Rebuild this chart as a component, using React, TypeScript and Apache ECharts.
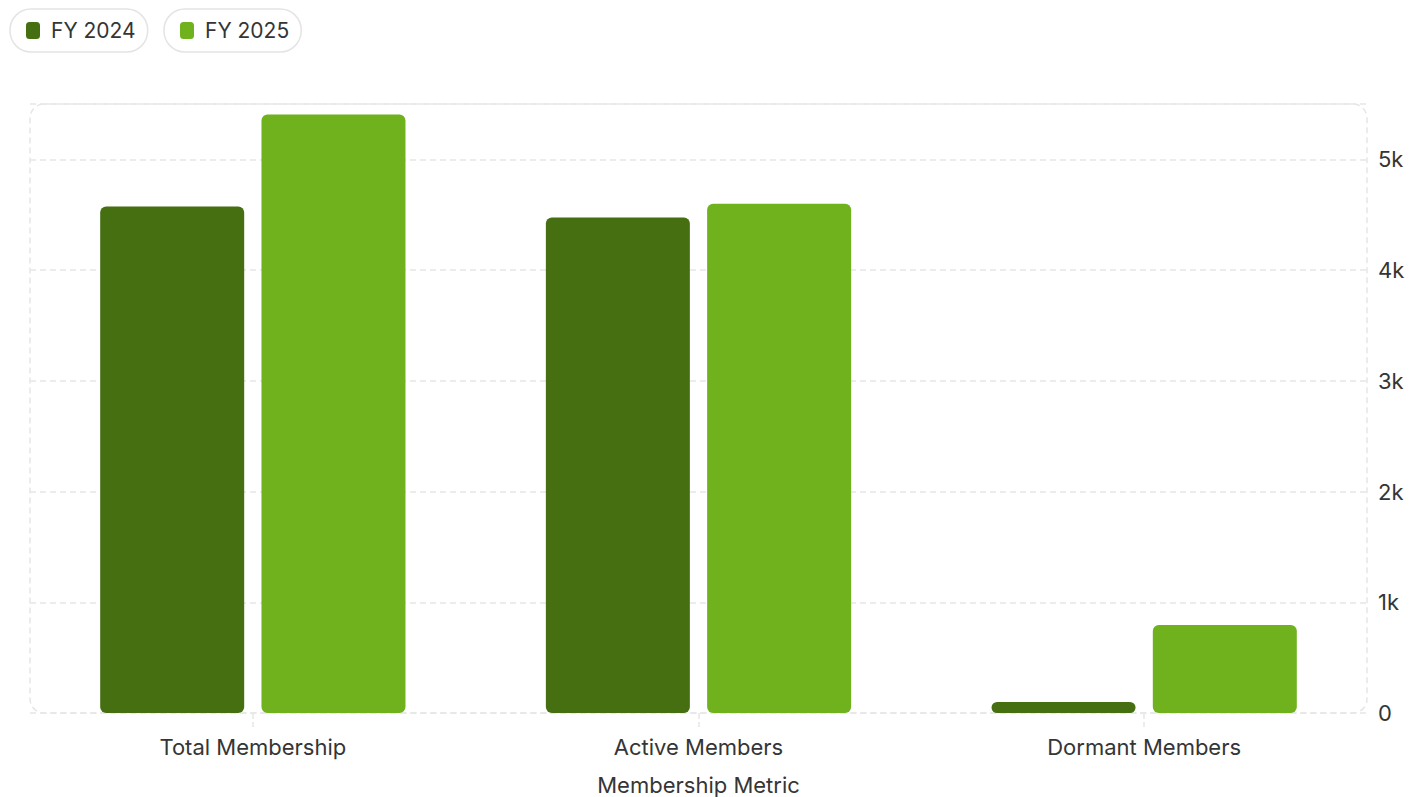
import React, { useEffect, useRef } from "react";
import * as echarts from "echarts";

const categories = ["Total Membership", "Active Members", "Dormant Members"];
const fy2024 = [4575, 4475, 100];
const fy2025 = [5405, 4600, 795];
const seriesNames = ["FY 2024", "FY 2025"];
const yTicks = [0, 1000, 2000, 3000, 4000, 5000];

const FONT = "Inter, 'Noto Sans', sans-serif";
const TEXT = "#353535";

export default function App() {
  const ref = useRef<HTMLDivElement>(null);
  useEffect(() => {
    if (!ref.current) return;
    const chart = echarts.init(ref.current, undefined, { renderer: "svg" });
    const legendBase = {
      top: 9,
      orient: "horizontal",
      icon: "roundRect",
      itemWidth: 14,
      itemHeight: 17,
      padding: [11, 12, 11, 16],
      borderColor: "#e4e4e4",
      borderWidth: 1.5,
      borderRadius: 21,
      textStyle: { fontFamily: FONT, fontSize: 21, color: TEXT, padding: [0, 0, 0, 6] },
    };
    chart.setOption({
      animation: false,
      textStyle: { fontFamily: FONT },
      color: ["#456f11", "#6fb21e"],
      legend: [
        { ...legendBase, left: 10, data: [seriesNames[0]] },
        { ...legendBase, left: 164, data: [seriesNames[1]] },
      ],
      grid: { left: 30, right: 53, top: 104, bottom: 84, containLabel: false, outerBoundsMode: "none" },
      graphic: [
        {
          type: "rect",
          silent: true,
          z: -1,
          shape: { x: 30, y: 104, width: 1337, height: 609, r: 14 },
          style: { fill: "none", stroke: "#e6e6e6", lineWidth: 1.5, lineDash: [6, 4] },
        },
      ],
      xAxis: {
        type: "category",
        data: categories,
        axisLine: { show: false },
        axisTick: {
          show: true,
          alignWithLabel: true,
          length: 14,
          lineStyle: { color: "#e6e6e6", type: "dashed", width: 1.5 },
        },
        axisLabel: { fontSize: 22, color: TEXT, margin: 23, fontFamily: FONT },
        name: "Membership Metric",
        nameLocation: "middle",
        nameGap: 61,
        nameTextStyle: { fontSize: 22, color: TEXT, fontFamily: FONT },
      },
      yAxis: {
        type: "value",
        position: "right",
        min: 0,
        max: 5500,
        interval: 1000,
        axisLine: { show: false },
        axisTick: { show: false },
        splitLine: { show: true, lineStyle: { color: "#e6e6e6", type: [6, 4], width: 1.5 } },
        axisLabel: {
          fontSize: 22,
          color: TEXT,
          margin: 11,
          fontFamily: FONT,
          formatter: (v: number) => (yTicks.includes(v) ? (v === 0 ? "0" : v / 1000 + "k") : ""),
        },
      },
      series: [
        {
          name: seriesNames[0],
          type: "bar",
          data: fy2024,
          barWidth: 144,
          barGap: "12%",
          itemStyle: { borderRadius: 6 },
        },
        {
          name: seriesNames[1],
          type: "bar",
          data: fy2025,
          barWidth: 144,
          barGap: "12%",
          itemStyle: { borderRadius: 6 },
        },
      ],
    });
    return () => chart.dispose();
  }, []);
  return (
    <div
      ref={ref}
      style={{ position: "fixed", left: 0, top: 0, width: 1420, height: 797, background: "#fff" }}
    />
  );
}
